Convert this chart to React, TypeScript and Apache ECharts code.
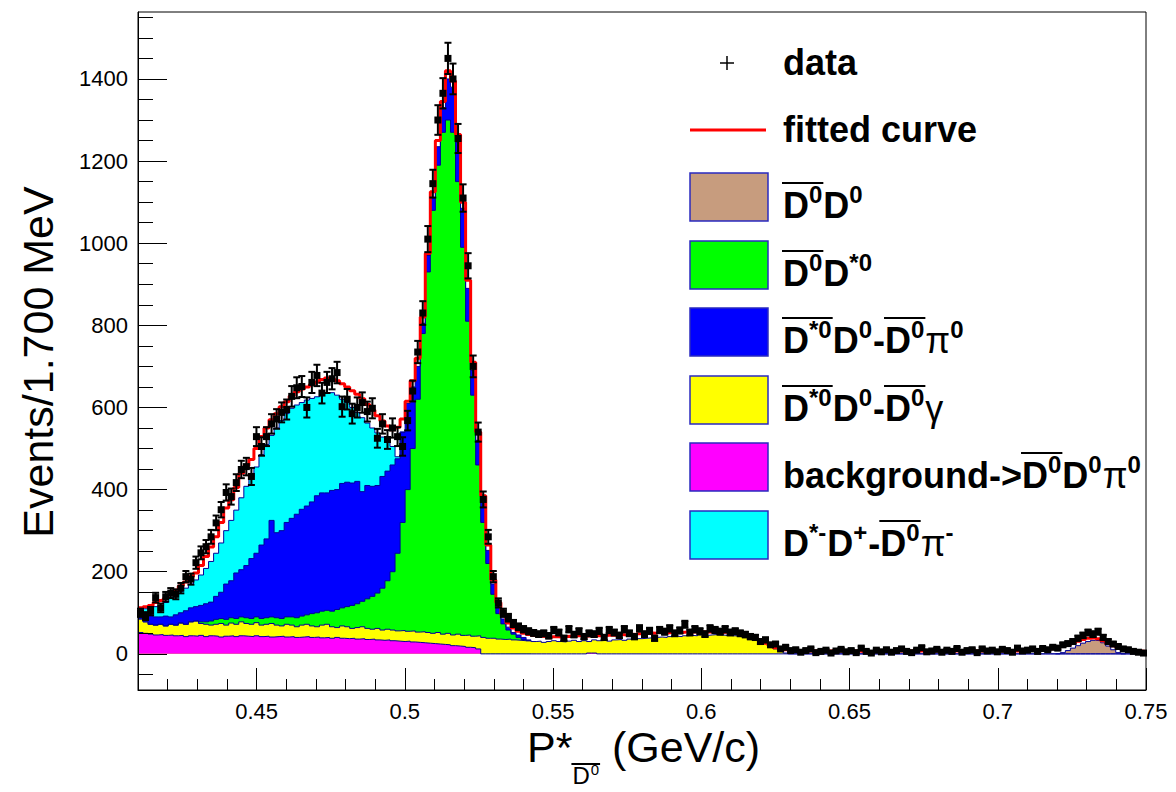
import React, { useEffect, useRef } from "react";
import * as echarts from "echarts";

// ---------- axis ranges & ticks ----------
const X_MIN = 0.41;
const X_MAX = 0.75;
const BIN = 0.0017;
const Y_MIN = -88;
const Y_MAX = 1563;

const xMajorTicks = [0.45, 0.5, 0.55, 0.6, 0.65, 0.7, 0.75];
const xMinorTicks = [0.42, 0.43, 0.44, 0.46, 0.47, 0.48, 0.49, 0.51, 0.52, 0.53, 0.54, 0.56, 0.57, 0.58, 0.59, 0.61, 0.62, 0.63, 0.64, 0.66, 0.67, 0.68, 0.69, 0.71, 0.72, 0.73, 0.74];
const yMajorTicks = [0, 200, 400, 600, 800, 1000, 1200, 1400];
const yMinorTicks = [-50, 50, 100, 150, 250, 300, 350, 450, 500, 550, 650, 700, 750, 850, 900, 950, 1050, 1100, 1150, 1250, 1300, 1350, 1450, 1500, 1550];

// ---------- data (200 bins of 1.7 MeV from 0.41) ----------
const dataCounts = [
  100, 92, 104, 137, 112, 139, 148, 145, 160, 188,
  182, 222, 246, 261, 285, 319, 351, 393, 383, 417,
  449, 456, 432, 529, 505, 529, 560, 572, 588, 595,
  627, 648, 651, 600, 661, 678, 635, 661, 670, 685,
  602, 620, 585, 600, 612, 590, 598, 525, 560, 522,
  550, 529, 505, 568, 640, 735, 830, 1010, 1145, 1300,
  1365, 1450, 1400, 1255, 1110, 945, 700, 540, 376, 285,
  188, 124, 100, 88, 74, 66, 60, 55, 51, 48,
  50, 44, 58, 52, 38, 60, 47, 55, 42, 50,
  48, 56, 40, 58, 52, 45, 60, 50, 42, 62,
  48, 56, 38, 58, 54, 62, 50, 57, 72, 52,
  60, 55, 48, 62, 58, 54, 60, 52, 55, 50,
  47, 42, 40, 30, 34, 22, 24, 12, 16, 8,
  10, 4, 8, 12, 3, 6, 9, 2, 7, 11,
  5, 8, 3, 14, 6, 2, 9, 5, 10, 4,
  8, 12, 6, 3, 9, 15, 5, 7, 11, 4,
  9, 6, 13, 4, 8, 10, 3, 12, 7, 9,
  5, 11, 8, 4, 14, 7, 9, 12, 6, 13,
  10, 16, 14, 22, 25, 30, 38, 45, 52, 48,
  54, 40, 30, 24, 18, 12, 10, 6, 4, 2,
];

const fitCurve = [
  112, 115, 118, 125, 130, 135, 145, 155, 165, 175,
  188, 197, 215, 237, 260, 285, 320, 355, 375, 405,
  440, 458, 473, 500, 529, 550, 570, 585, 602, 614,
  628, 638, 645, 650, 656, 662, 668, 672, 670, 665,
  658, 650, 641, 632, 621, 607, 594, 580, 567, 555,
  546, 552, 572, 615, 665, 720, 820, 975, 1125, 1250,
  1345, 1420, 1395, 1265, 1100, 910, 710, 540, 385, 265,
  180, 125, 95, 75, 63, 55, 50, 47, 45, 43,
  42, 41, 42, 41, 42, 43, 42, 44, 43, 44,
  45, 44, 45, 46, 45, 47, 46, 48, 47, 49,
  50, 51, 50, 52, 51, 52, 53, 52, 53, 54,
  53, 54, 53, 54, 53, 52, 53, 51, 50, 48,
  46, 43, 38, 32, 26, 20, 15, 12, 10, 9,
  8, 8, 7, 7, 7, 7, 7, 7, 7, 7,
  7, 7, 7, 6, 6, 6, 7, 7, 7, 7,
  7, 7, 7, 7, 7, 7, 7, 7, 7, 7,
  7, 7, 7, 7, 7, 7, 7, 7, 7, 7,
  7, 7, 7, 7, 7, 8, 8, 9, 10, 11,
  12, 13, 15, 18, 21, 26, 31, 35, 38, 39,
  37, 32, 26, 20, 15, 11, 9, 8, 7, 6,
];

// cumulative upper edges of the stacked MC components
// background->D0barD0pi0 (magenta), bins 0..199
const bkgTop = [
  52, 50, 48, 46, 47, 45, 46, 44, 45, 42,
  44, 43, 45, 42, 44, 43, 41, 43, 44, 42,
  44, 43, 42, 44, 42, 43, 41, 42, 43, 41,
  42, 40, 41, 42, 40, 41, 39, 40, 38, 40,
  38, 37, 38, 36, 37, 35, 36, 34, 33, 34,
  32, 31, 30, 31, 29, 28, 27, 26, 25, 24,
  23, 22, 20, 19, 18, 16, 15, 12, 0, 0,
  0, 0, 0, 0, 0, 0, 0, 0, 0, 0,
  0, 0, 0, 0, 0, 0, 0, 0, 0, 2,
  2, 0, 0, 0, 0, 0, 0, 0, 0, 0,
  0, 0, 0, 0, 0, 0, 0, 0, 0, 0,
  0, 0, 0, 0, 0, 0, 0, 0, 0, 0,
  0, 0, 0, 0, 0, 0, 0, 0, 0, 0,
  0, 0, 0, 0, 0, 0, 0, 0, 0, 0,
  0, 0, 0, 0, 0, 0, 0, 0, 0, 0,
  0, 0, 0, 0, 0, 0, 0, 0, 0, 0,
  0, 0, 0, 0, 0, 0, 0, 0, 0, 0,
  0, 0, 0, 0, 0, 0, 0, 0, 0, 0,
  0, 0, 0, 0, 0, 0, 0, 0, 0, 0,
  0, 0, 0, 0, 0, 0, 0, 0, 0, 0,
];

// D*0barD0 - D0bar gamma (yellow), bins 0..199
const gammaTop = [
  85, 78, 72, 70, 72, 68, 72, 70, 75, 72,
  78, 80, 74, 72, 70, 72, 74, 70, 75, 72,
  78, 74, 72, 76, 70, 72, 74, 70, 68, 72,
  70, 66, 70, 72, 68, 66, 70, 72, 66, 64,
  68, 66, 62, 64, 66, 62, 60, 62, 58, 60,
  58, 56, 57, 55, 56, 53, 54, 52, 50, 52,
  48, 50, 46, 48, 45, 46, 43, 44, 40, 38,
  38, 36, 35, 36, 34, 33, 32, 32, 30, 31,
  28, 30, 32, 30, 29, 31, 33, 30, 32, 30,
  34, 32, 33, 31, 34, 35, 33, 36, 35, 37,
  38, 39, 40, 41, 40, 42, 43, 42, 44, 45,
  44, 46, 45, 46, 47, 46, 45, 46, 44, 43,
  42, 40, 35, 30, 25, 18, 12, 6, 2, 0,
  0, 0, 0, 0, 0, 0, 0, 0, 0, 0,
  0, 0, 0, 0, 0, 0, 0, 0, 0, 0,
  0, 0, 0, 0, 0, 0, 0, 0, 0, 0,
  0, 0, 0, 0, 0, 0, 0, 0, 0, 0,
  0, 0, 0, 0, 0, 0, 0, 0, 0, 0,
  0, 0, 0, 0, 0, 0, 0, 0, 0, 0,
  0, 0, 0, 0, 0, 0, 0, 0, 0, 0,
];

// D0bar D*0 (green), bins 0..77
const dStarTop = [
  85, 78, 72, 70, 72, 68, 72, 70, 75, 72,
  78, 80, 78, 78, 80, 84, 86, 84, 88, 86,
  90, 88, 86, 90, 86, 88, 90, 88, 86, 90,
  90, 88, 92, 95, 98, 100, 104, 106, 104, 108,
  112, 115, 118, 122, 128, 134, 140, 148, 160, 178,
  200, 245, 320, 400, 500, 620, 780, 930, 1080, 1190,
  1270, 1300, 1270, 1150, 990, 810, 630, 460, 320, 220,
  145, 98, 73, 58, 48, 40, 35, 32,
];

// D*0bar D0 - D0bar pi0 (blue), bins 0..77
const pi0Top = [
  105, 100, 95, 90, 90, 92, 90, 95, 100, 105,
  112, 115, 118, 122, 126, 140, 150, 170, 178, 197,
  205, 215, 232, 245, 265, 280, 325, 295, 300, 320,
  330, 340, 352, 360, 370, 385, 392, 392, 398, 400,
  415, 418, 416, 420, 395, 410, 408, 410, 432, 445,
  460, 475, 540, 610, 650, 700, 805, 970, 1110, 1235,
  1330, 1400, 1380, 1245, 1085, 890, 690, 520, 370, 252,
  170, 115, 85, 65, 52, 46, 40, 34,
];

// D*- D+ - D0bar pi- (cyan), bins 0..52
const chargedTop = [
  108, 110, 112, 115, 118, 125, 135, 145, 152, 160,
  170, 180, 192, 208, 225, 245, 270, 300, 325, 350,
  380, 408, 430, 455, 485, 510, 532, 550, 568, 585,
  598, 606, 612, 618, 622, 626, 632, 636, 636, 630,
  620, 612, 600, 588, 575, 562, 550, 538, 528, 518,
  505, 480, 540,
];

// D0bar D0 (brown), bins 182..195
const d0d0Start = 182;
const d0d0Top = [0, 3, 8, 14, 20, 26, 30, 33, 32, 27, 19, 10, 3, 0];

// ---------- styles ----------
const FONT = "'Liberation Sans', Arial, Helvetica, sans-serif";
const OUTLINE = "#000099";
const C_BROWN = "#c79c7e";
const C_GREEN = "#00ff00";
const C_BLUE = "#0000ff";
const C_YELLOW = "#ffff00";
const C_MAGENTA = "#ff00ff";
const C_CYAN = "#00ffff";

const edge = (i: number) => X_MIN + BIN * i;
function stepData(values: number[], start: number) {
  const pts = values.map((v, k) => [edge(start + k), v]);
  pts.push([edge(start + values.length), values[values.length - 1]]);
  return pts;
}

let measureCtx: CanvasRenderingContext2D | null = null;
function measure(text: string, size: number, weight: string) {
  if (!measureCtx) measureCtx = document.createElement("canvas").getContext("2d");
  if (!measureCtx) return text.length * size * 0.6;
  measureCtx.font = `${weight} ${size}px ${FONT}`;
  return measureCtx.measureText(text).width;
}

type Tok = { t: string; s?: number; g?: number; b?: number };

const MAIN = 36;
const SUP = 24;
const SUP_RAISE = 15;
const BAR_H = 35;

function richText(x0: number, base: number, tokens: Tok[]) {
  const out: any[] = [];
  let x = x0;
  const groups: Record<number, { x1: number; x2: number }> = {};
  tokens.forEach((tok) => {
    const size = tok.s ? SUP : MAIN;
    const weight = tok.g ? "normal" : "bold";
    const b = tok.s ? base - SUP_RAISE : base;
    const w = measure(tok.t, size, weight);
    out.push({
      type: "text",
      x,
      y: b - 0.35 * size,
      z: 100,
      style: {
        text: tok.t,
        fontSize: size,
        fontWeight: weight,
        fontFamily: FONT,
        fill: "#000",
        align: "left",
        verticalAlign: "middle",
        textAlign: "left",
        textVerticalAlign: "middle",
      },
    });
    if (tok.b) {
      if (!groups[tok.b]) groups[tok.b] = { x1: x, x2: x + w };
      groups[tok.b].x2 = x + w;
    }
    x += w + (tok.s ? 1 : 0);
  });
  Object.keys(groups).forEach((k) => {
    const g = groups[+k];
    out.push({
      type: "line",
      z: 100,
      shape: { x1: g.x1 - 1, y1: base - BAR_H, x2: g.x2 + 1, y2: base - BAR_H },
      style: { stroke: "#000", lineWidth: 2 },
    });
  });
  return out;
}

const legendRows: { fill: string; tokens: Tok[] }[] = [
  { fill: C_BROWN, tokens: [{ t: "D", b: 1 }, { t: "0", s: 1, b: 1 }, { t: "D" }, { t: "0", s: 1 }] },
  { fill: C_GREEN, tokens: [{ t: "D", b: 1 }, { t: "0", s: 1, b: 1 }, { t: "D" }, { t: "*0", s: 1 }] },
  {
    fill: C_BLUE,
    tokens: [
      { t: "D", b: 1 }, { t: "*0", s: 1, b: 1 }, { t: "D" }, { t: "0", s: 1 }, { t: "-" },
      { t: "D", b: 2 }, { t: "0", s: 1, b: 2 }, { t: "π", g: 1 }, { t: "0", s: 1 },
    ],
  },
  {
    fill: C_YELLOW,
    tokens: [
      { t: "D", b: 1 }, { t: "*0", s: 1, b: 1 }, { t: "D" }, { t: "0", s: 1 }, { t: "-" },
      { t: "D", b: 2 }, { t: "0", s: 1, b: 2 }, { t: "γ", g: 1 },
    ],
  },
  {
    fill: C_MAGENTA,
    tokens: [
      { t: "background->" }, { t: "D", b: 1 }, { t: "0", s: 1, b: 1 }, { t: "D" }, { t: "0", s: 1 },
      { t: "π", g: 1 }, { t: "0", s: 1 },
    ],
  },
  {
    fill: C_CYAN,
    tokens: [
      { t: "D" }, { t: "*-", s: 1 }, { t: "D" }, { t: "+", s: 1 }, { t: "-" },
      { t: "D", b: 1 }, { t: "0", s: 1, b: 1 }, { t: "π", g: 1 }, { t: "-", s: 1 },
    ],
  },
];

function buildGraphics() {
  const els: any[] = [];
  // data entry
  els.push({ type: "line", z: 100, shape: { x1: 720, y1: 63, x2: 734, y2: 63 }, style: { stroke: "#000", lineWidth: 1.5 } });
  els.push({ type: "line", z: 100, shape: { x1: 727, y1: 56, x2: 727, y2: 70 }, style: { stroke: "#000", lineWidth: 1.5 } });
  els.push(...richText(783, 75.5, [{ t: "data" }]));
  // fitted curve entry
  els.push({ type: "line", z: 100, shape: { x1: 690, y1: 130, x2: 766, y2: 130 }, style: { stroke: "#ff0000", lineWidth: 3 } });
  els.push(...richText(783, 142.5, [{ t: "fitted curve" }]));
  // boxes
  const boxY = [173, 241, 308, 376, 443, 511];
  legendRows.forEach((row, k) => {
    els.push({
      type: "rect",
      z: 100,
      shape: { x: 690, y: boxY[k], width: 78, height: 48 },
      style: { fill: row.fill, stroke: "#2a2ac0", lineWidth: 1.5 },
    });
    els.push(...richText(783, boxY[k] + 45, row.tokens));
  });

  // y-axis title
  els.push({
    type: "text",
    x: 38,
    y: 362,
    rotation: Math.PI / 2,
    z: 100,
    style: {
      text: "Events/1.700 MeV",
      fontSize: 43,
      fontFamily: FONT,
      fill: "#000",
      align: "center",
      verticalAlign: "middle",
      textAlign: "center",
      textVerticalAlign: "middle",
    },
  });

  // x-axis title: P*_{D0bar} (GeV/c)
  const tStyle = (text: string, size: number) => ({
    text,
    fontSize: size,
    fontFamily: FONT,
    fill: "#000",
    align: "left",
    verticalAlign: "middle",
    textAlign: "left",
    textVerticalAlign: "middle",
  });
  const base = 762;
  const pW = measure("P*", 43, "normal");
  els.push({ type: "text", x: 527, y: base - 0.35 * 43, z: 100, style: tStyle("P*", 43) });
  const subX = 527 + pW;
  const dW = measure("D", 24, "normal");
  const zW = measure("0", 15, "normal");
  els.push({ type: "text", x: subX, y: 784 - 0.35 * 24, z: 100, style: tStyle("D", 24) });
  els.push({ type: "text", x: subX + dW + 1, y: 775 - 0.35 * 15, z: 100, style: tStyle("0", 15) });
  els.push({
    type: "line",
    z: 100,
    shape: { x1: subX - 1, y1: 764, x2: subX + dW + zW + 2, y2: 764 },
    style: { stroke: "#000", lineWidth: 2 },
  });
  els.push({ type: "text", x: 612, y: base - 0.35 * 43, z: 100, style: tStyle("(GeV/c)", 43) });
  return els;
}

function areaSeries(name: string, values: number[], start: number, color: string) {
  return {
    type: "line",
    name,
    data: stepData(values, start),
    step: "end",
    symbol: "none",
    showSymbol: false,
    silent: true,
    z: 2,
    lineStyle: { color: OUTLINE, width: 1 },
    areaStyle: { color, opacity: 1 },
  };
}

export default function App() {
  const ref = useRef<HTMLDivElement>(null);

  useEffect(() => {
    if (!ref.current) return;
    const chart = echarts.init(ref.current, null, { renderer: "svg" });

    const axisCommon = {
      type: "value",
      splitLine: { show: false },
      z: 10,
    };

    const option: any = {
      animation: false,
      backgroundColor: "#ffffff",
      grid: {
        left: 138,
        right: 30,
        top: 12,
        bottom: 102,
        show: true,
        borderColor: "#000",
        borderWidth: 1,
        backgroundColor: "transparent",
        containLabel: false,
        outerBoundsMode: "none",
      },
      xAxis: [
        {
          ...axisCommon,
          min: X_MIN,
          max: X_MAX,
          position: "bottom",
          axisLine: { show: true, onZero: false, lineStyle: { color: "#000", width: 1 } },
          axisTick: { show: true, inside: true, length: 22, customValues: xMajorTicks, lineStyle: { color: "#000", width: 1 } },
          axisLabel: {
            show: true,
            customValues: xMajorTicks,
            formatter: (v: number) => String(parseFloat(Number(v).toFixed(2))),
            fontSize: 22,
            fontFamily: FONT,
            color: "#000",
            margin: 10,
          },
        },
        {
          ...axisCommon,
          min: X_MIN,
          max: X_MAX,
          position: "bottom",
          axisLine: { show: false, onZero: false },
          axisTick: { show: true, inside: true, length: 11, customValues: xMinorTicks, lineStyle: { color: "#000", width: 1 } },
          axisLabel: { show: false },
        },
      ],
      yAxis: [
        {
          ...axisCommon,
          min: Y_MIN,
          max: Y_MAX,
          position: "left",
          axisLine: { show: true, onZero: false, lineStyle: { color: "#000", width: 1 } },
          axisTick: { show: true, inside: true, length: 29, customValues: yMajorTicks, lineStyle: { color: "#000", width: 1 } },
          axisLabel: {
            show: true,
            customValues: yMajorTicks,
            formatter: (v: number) => String(Math.round(v)),
            fontSize: 22,
            fontFamily: FONT,
            color: "#000",
            margin: 10,
          },
        },
        {
          ...axisCommon,
          min: Y_MIN,
          max: Y_MAX,
          position: "left",
          axisLine: { show: false, onZero: false },
          axisTick: { show: true, inside: true, length: 15, customValues: yMinorTicks, lineStyle: { color: "#000", width: 1 } },
          axisLabel: { show: false },
        },
      ],
      series: [
        areaSeries("D*- D+ - D0bar pi-", chargedTop, 0, C_CYAN),
        areaSeries("D*0bar D0 - D0bar pi0", pi0Top, 0, C_BLUE),
        areaSeries("D0bar D*0", dStarTop, 0, C_GREEN),
        areaSeries("D*0bar D0 - D0bar gamma", gammaTop, 0, C_YELLOW),
        areaSeries("background", bkgTop, 0, C_MAGENTA),
        areaSeries("D0bar D0", d0d0Top, d0d0Start, C_BROWN),
        {
          type: "line",
          name: "fitted curve",
          data: stepData(fitCurve, 0),
          step: "end",
          symbol: "none",
          showSymbol: false,
          silent: true,
          z: 3,
          lineStyle: { color: "#ff0000", width: 3 },
        },
        {
          type: "custom",
          name: "data",
          z: 4,
          silent: true,
          data: dataCounts.map((v, i) => [X_MIN + BIN * (i + 0.5), v]),
          encode: { x: 0, y: 1 },
          renderItem: (params: any, api: any) => {
            const x = api.value(0) as number;
            const y = api.value(1) as number;
            const e = Math.sqrt(Math.max(y, 0));
            const c = api.coord([x, y]);
            const t = api.coord([x, y + e]);
            const b = api.coord([x, y - e]);
            const l = api.coord([x - BIN / 2, y]);
            const r = api.coord([x + BIN / 2, y]);
            const st = { stroke: "#000", lineWidth: 2 };
            return {
              type: "group",
              children: [
                { type: "line", shape: { x1: c[0], y1: t[1], x2: c[0], y2: b[1] }, style: st },
                { type: "line", shape: { x1: c[0] - 3.5, y1: t[1], x2: c[0] + 3.5, y2: t[1] }, style: st },
                { type: "line", shape: { x1: c[0] - 3.5, y1: b[1], x2: c[0] + 3.5, y2: b[1] }, style: st },
                { type: "line", shape: { x1: l[0], y1: c[1], x2: r[0], y2: c[1] }, style: { stroke: "#000", lineWidth: 3 } },
                { type: "rect", shape: { x: c[0] - 3.5, y: c[1] - 3.5, width: 7, height: 7 }, style: { fill: "#000" } },
              ],
            };
          },
        },
      ],
      graphic: { elements: buildGraphics() },
    };

    chart.setOption(option);
    return () => {
      chart.dispose();
    };
  }, []);

  return (
    <div
      ref={ref}
      style={{ position: "fixed", left: 0, top: 0, width: 1176, height: 792, background: "#fff" }}
    />
  );
}
